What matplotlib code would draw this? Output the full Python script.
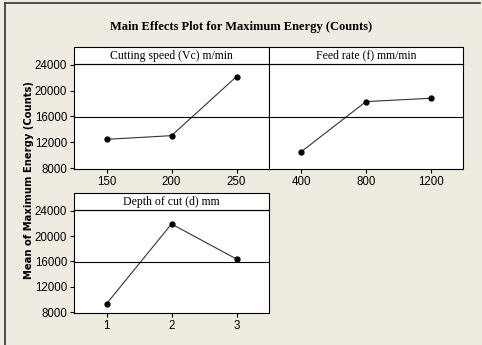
import matplotlib
matplotlib.use("Agg")
import matplotlib.pyplot as plt
from matplotlib.patches import Rectangle
from matplotlib.lines import Line2D

# factor levels and mean responses
speed_levels = [150, 200, 250]
speed_means = [12450, 13020, 22180]
feed_levels = [400, 800, 1200]
feed_means = [10540, 18300, 18820]
depth_levels = [1, 2, 3]
depth_means = [9300, 21920, 16380]

grand_mean = (sum(speed_means) + sum(feed_means) + sum(depth_means)) / 9
yticks = [8000, 12000, 16000, 20000, 24000]

bg = "#efebe1"
W, H = 482, 345

fig = plt.figure(figsize=(4.82, 3.45), dpi=100, facecolor=bg)

def box(x0, y0, x1, y1):
    # pixel box -> figure fraction rect
    return [x0 / W, 1 - y1 / H, (x1 - x0) / W, (y1 - y0) / H]

def panel(rect, levels, means, name, show_y=True):
    ax = fig.add_axes(rect)
    ax.set_facecolor("white")
    ax.plot(levels, means, color="#333333", lw=0.8, marker="o", ms=3.5,
            mfc="black", mec="black")
    ax.axhline(grand_mean, color="black", lw=0.8)
    step = levels[1] - levels[0]
    ax.set_xlim(levels[0] - step / 2, levels[-1] + step / 2)
    ax.set_ylim(7850, 24130)
    ax.set_xticks(levels)
    ax.set_yticks(yticks)
    ax.tick_params(direction="out", length=3, width=0.8, labelsize=8.3,
                   pad=2, colors="black")
    for lab in ax.get_xticklabels() + ax.get_yticklabels():
        lab.set_family("Liberation Sans")
    if not show_y:
        ax.tick_params(axis="y", left=False, labelleft=False)
    for s in ax.spines.values():
        s.set_linewidth(0.8)
    # strip header on top of the panel
    hh = 17 / (rect[3] * H)
    ax.add_patch(Rectangle((0, 1), 1, hh, transform=ax.transAxes,
                           facecolor="white", edgecolor="black", lw=0.8,
                           clip_on=False))
    ax.text(0.5, 1 + hh / 2, name, transform=ax.transAxes, ha="center",
            va="center", fontsize=8.5, family="Liberation Serif")
    return ax

panel(box(74, 64, 269, 169), speed_levels, speed_means,
      "Cutting speed (Vc) m/min")
panel(box(269, 64, 463, 169), feed_levels, feed_means,
      "Feed rate (f) mm/min", show_y=False)
panel(box(74, 210, 269, 313), depth_levels, depth_means,
      "Depth of cut (d) mm")

fig.text(241 / W, 1 - 27 / H, "Main Effects Plot for Maximum Energy (Counts)",
         ha="center", va="center", fontsize=9, fontweight="bold",
         family="Liberation Serif")
fig.text(29 / W, 1 - 180 / H, "Mean of Maximum Energy (Counts)",
         rotation=90, ha="center", va="center", fontsize=7.2,
         fontweight="bold", family="DejaVu Sans")

# window frame
fig.add_artist(Line2D([5 / W, 5 / W], [0, 1 - 3 / H], color="#333333",
                      lw=1.2, transform=fig.transFigure))
fig.add_artist(Line2D([5 / W, 480 / W], [1 - 3 / H, 1 - 3 / H],
                      color="#333333", lw=1.2, transform=fig.transFigure))

fig.savefig("out.png", dpi=100, facecolor=bg)
